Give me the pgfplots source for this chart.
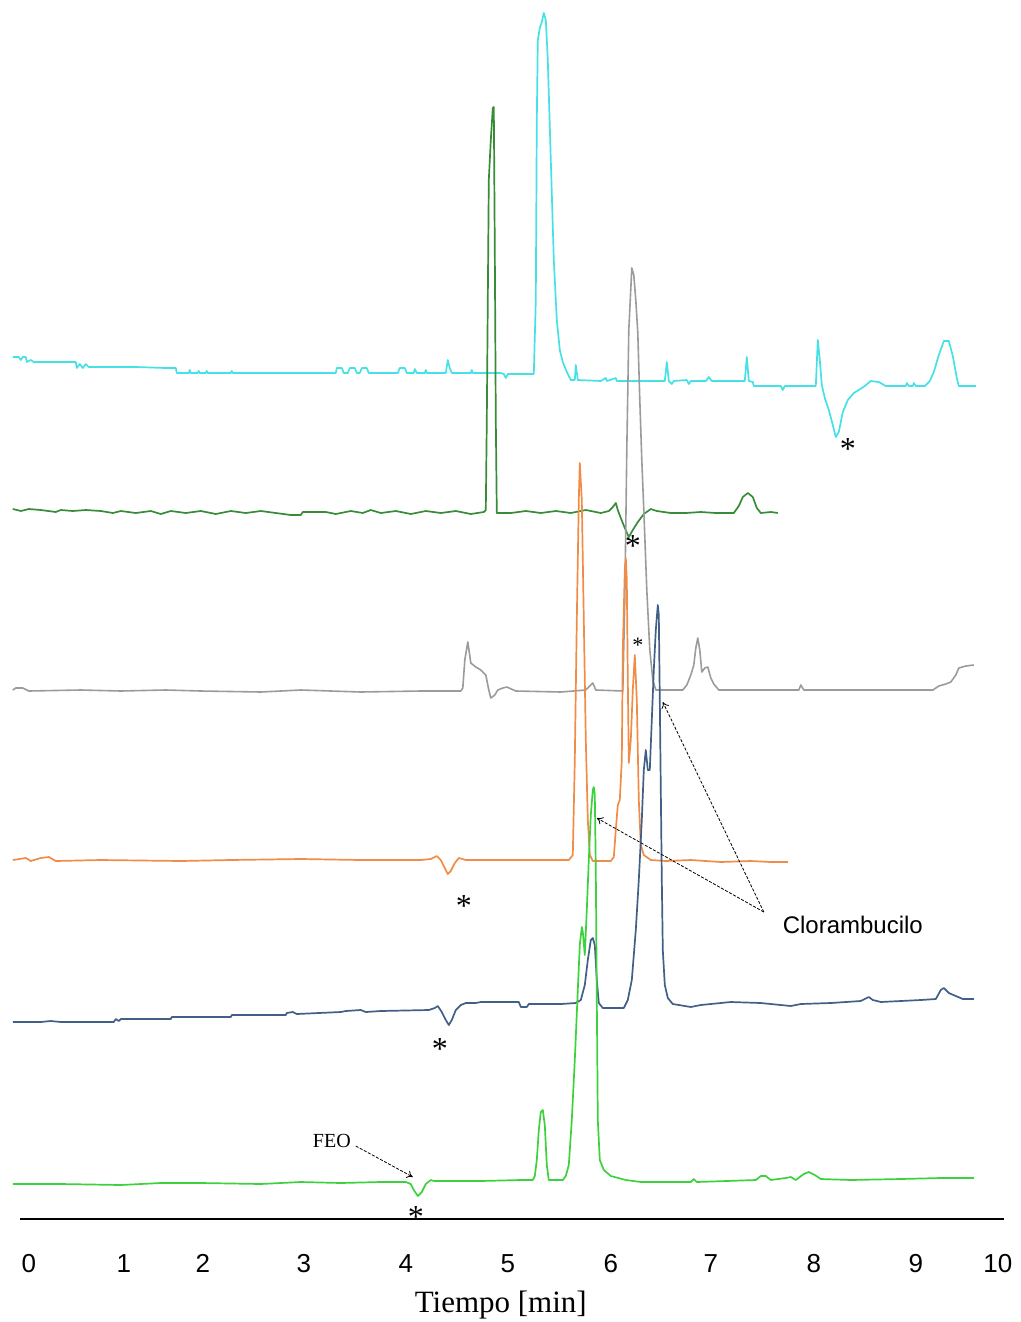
\documentclass[border=0pt]{standalone}
\usepackage{fontspec}
\setmainfont{Liberation Serif}
\newfontfamily\arial{Liberation Sans}
\usepackage{pgfplots}
\pgfplotsset{compat=1.18}
\usetikzlibrary{arrows.meta}
\definecolor{ccyan}{RGB}{70,225,230}
\definecolor{dgreen}{RGB}{56,140,56}
\definecolor{cgray}{RGB}{155,155,155}
\definecolor{corange}{RGB}{240,140,70}
\definecolor{cblue}{RGB}{65,95,135}
\definecolor{lgreen}{RGB}{60,210,60}
\begin{document}
\begin{tikzpicture}
\begin{axis}[
  scale only axis, width=509.5pt, height=609.5pt,
  xmin=0, xmax=1019, ymin=0, ymax=1219,
  y dir=reverse,
  axis y line=none, axis x line=bottom,
  x axis line style={-, line width=0.8pt, shorten <=9.5pt, shorten >=8pt},
  xtick={28,123,202,303,405,507,610,710,813,915,997},
  xticklabels={0,1,2,3,4,5,6,7,8,9,10},
  major tick length=0pt,
  xticklabel style={font=\fontsize{13}{15}\selectfont\arial, anchor=base, inner sep=0pt, yshift=-26.5pt},
  xlabel={Tiempo [min]},
  xlabel style={font=\fontsize{15.5}{18}\selectfont, inner sep=0pt, at={(axis cs:500,1312)}, anchor=base},
  clip=false,
  every axis plot/.append style={line width=0.85pt, line join=round},
]
% cyan
\addplot[color=ccyan] coordinates {(12,357) (18,357) (20,360) (22,357) (25,357) (26,362) (30,360) (33,362) (75,362) (76,368) (79,364) (82,368) (85,364) (88,367) (135,367) (165,368) (175,368) (176,373) (188,373) (189,370) (190,373) (197,373) (198,371) (199,373) (205,373) (206,371) (207,373) (230,373) (231,371) (232,373) (335,373) (336,368) (341,368) (343,373) (347,373) (349,368) (354,368) (356,373) (359,373) (361,368) (366,368) (368,373) (397,373) (399,368) (404,368) (406,373) (413,373) (414,369) (416,373) (424,373) (425,370) (426,373) (445,373) (447,360) (449,368) (451,373) (470,373) (471,370) (472,373) (500,373) (503,374) (505,378) (507,374) (533,374) (535,300) (536,120) (537,40) (539,28) (541,22) (543,13) (545,20) (547,60) (550,160) (553,260) (556,320) (559,350) (562,362) (566,372) (570,380) (574,380) (575,365) (577,380) (600,381) (605,378) (606,381) (615,378) (616,381) (664,381) (666,362) (668,381) (671,384) (673,381) (686,380) (688,384) (690,381) (705,381) (708,377) (711,381) (744,381) (746,357) (748,381) (752,382) (753,386) (780,386) (782,390) (784,386) (815,386) (817,340) (819,360) (821,385) (824,398) (828,410) (832,425) (835,437) (838,432) (842,412) (847,400) (853,393) (858,390) (864,386) (870,381) (878,382) (885,386) (905,386) (906,383) (908,386) (912,386) (913,383) (915,386) (924,386) (929,381) (933,372) (938,355) (943,341) (948,341) (952,356) (956,378) (958,386) (975,386)};
% dark green
\addplot[color=dgreen] coordinates {(12,509) (20,511) (28,509) (40,510) (55,512) (60,510) (72,511) (85,510) (100,511) (112,513) (120,511) (135,513) (150,511) (160,514) (170,511) (185,513) (200,511) (215,514) (230,511) (245,513) (260,511) (275,513) (290,515) (300,515) (302,512) (325,512) (335,514) (350,511) (362,513) (370,510) (380,513) (395,511) (410,514) (425,511) (440,513) (455,511) (470,514) (483,512) (485,510) (486,420) (488,180) (490,140) (492,108) (493,107) (494,250) (495,420) (496,513) (510,513) (525,511) (540,513) (555,511) (570,513) (585,510) (600,513) (608,511) (612,507) (615,503) (617,510) (620,518) (624,528) (628,537) (632,530) (637,522) (643,514) (650,509) (656,511) (670,513) (685,513) (700,512) (715,513) (733,513) (738,506) (742,497) (747,493) (752,497) (756,508) (760,513) (770,512) (777,513)};
% gray
\addplot[color=cgray, line width=0.8pt] coordinates {(12,690) (15,688) (22,688) (28,691) (80,690) (120,691) (165,690) (200,691) (260,692) (300,690) (360,692) (420,691) (460,691) (462,688) (464,660) (467,642) (470,663) (475,667) (480,670) (485,675) (488,690) (490,698) (494,695) (497,690) (502,688) (506,687) (515,691) (560,692) (585,690) (589,686) (592,683) (595,690) (622,691) (624,600) (626,450) (628,330) (631,268) (633,275) (635,300) (637,333) (639,400) (641,460) (643,510) (646,590) (649,650) (652,680) (655,690) (682,690) (686,685) (690,675) (693,665) (695,648) (697,638) (699,650) (701,672) (704,668) (707,667) (710,678) (713,684) (718,690) (760,690) (798,690) (800,685) (803,690) (870,690) (932,690) (938,686) (945,684) (950,682) (955,675) (958,668) (965,666) (973,665)};
% orange
\addplot[color=corange] coordinates {(12,860) (25,858) (30,861) (40,858) (48,857) (55,861) (100,860) (180,861) (230,860) (300,859) (360,860) (420,860) (430,859) (436,856) (440,860) (444,868) (447,874) (450,871) (454,863) (458,858) (465,860) (568,860) (572,855) (574,760) (576,620) (578,500) (579,463) (581,500) (583,620) (585,740) (587,820) (589,855) (592,861) (610,861) (613,857) (615,830) (617,805) (619,800) (621,760) (622,650) (624,570) (625,558) (626,580) (627,680) (628,763) (630,740) (632,690) (634,655) (636,700) (638,800) (640,845) (643,855) (650,860) (665,861) (690,860) (720,862) (750,861) (770,862) (787,862)};
% blue
\addplot[color=cblue] coordinates {(12,1022) (40,1022) (50,1021) (60,1022) (113,1022) (115,1019) (118,1021) (120,1019) (170,1019) (171,1017) (230,1017) (231,1015) (285,1015) (286,1013) (292,1012) (296,1014) (340,1012) (345,1011) (360,1010) (365,1012) (380,1011) (428,1010) (434,1008) (437,1006) (441,1012) (445,1020) (448,1025) (451,1020) (455,1010) (460,1005) (465,1003) (475,1003) (480,1002) (518,1002) (520,1007) (526,1007) (528,1004) (560,1004) (575,1003) (580,1000) (584,985) (587,960) (590,940) (592,938) (594,945) (596,980) (598,1003) (602,1008) (623,1008) (627,1000) (631,980) (635,930) (638,880) (641,820) (643,770) (645,750) (647,770) (649,770) (651,720) (653,670) (655,630) (657,605) (658,615) (659,700) (660,790) (661,880) (662,950) (664,985) (667,998) (672,1004) (690,1007) (700,1005) (730,1002) (760,1003) (790,1006) (800,1004) (830,1003) (860,1001) (868,997) (872,1000) (880,1002) (920,1000) (935,999) (940,990) (943,988) (948,993) (955,996) (962,999) (973,999)};
% light green
\addplot[color=lgreen] coordinates {(12,1184) (60,1184) (120,1185) (160,1183) (200,1183) (260,1184) (300,1182) (340,1183) (380,1182) (405,1182) (410,1184) (413,1190) (417,1196) (421,1192) (425,1184) (430,1180) (433,1181) (480,1181) (520,1180) (532,1180) (534,1176) (536,1160) (538,1130) (540,1112) (542,1110) (544,1125) (546,1165) (548,1180) (562,1180) (565,1176) (568,1165) (571,1120) (574,1060) (577,990) (579,945) (581,927) (582,932) (584,955) (586,910) (588,860) (590,815) (592,790) (593,787) (594,795) (595,870) (596,1000) (597,1120) (599,1160) (603,1170) (610,1176) (625,1180) (640,1182) (690,1182) (693,1179) (696,1182) (755,1180) (760,1176) (765,1176) (770,1180) (785,1178) (790,1177) (795,1180) (803,1174) (808,1172) (814,1175) (820,1179) (850,1180) (900,1179) (940,1178) (973,1178)};
% annotations
\tikzset{star/.style={font=\fontsize{16}{16}\selectfont, inner sep=0pt, anchor=center}}
\node[star] at (axis cs:847,449) {*};
\node[star] at (axis cs:632,546) {*};
\node[star, font=\fontsize{11}{11}\selectfont] at (axis cs:637,645) {*};
\node[star] at (axis cs:463,906) {*};
\node[star] at (axis cs:439,1049) {*};
\node[star] at (axis cs:415,1217) {*};
\node[font=\fontsize{10}{12}\selectfont, inner sep=0pt] at (axis cs:331,1141) {FEO};
\draw[line width=0.4pt, dash pattern=on 1.5pt off 0.8pt, -{To[length=3pt,width=4pt]}] (axis cs:355,1146) -- (axis cs:412,1177);
\node[font=\fontsize{12}{14}\selectfont\arial, inner sep=0pt] at (axis cs:852,925) {Clorambucilo};
\draw[line width=0.4pt, dash pattern=on 1.5pt off 0.8pt, -{To[length=3pt,width=4pt]}] (axis cs:763,912) -- (axis cs:596,818);
\draw[line width=0.4pt, dash pattern=on 1.5pt off 0.8pt, -{To[length=3pt,width=4pt]}] (axis cs:763,912) -- (axis cs:662,702);
\path (axis cs:0,1322) (axis cs:1019,0);
\end{axis}
\end{tikzpicture}
\end{document}
